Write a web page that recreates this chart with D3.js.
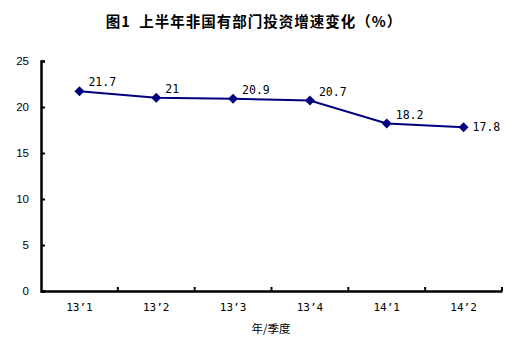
<!DOCTYPE html>
<html><head><meta charset="utf-8">
<script src="https://cdn.jsdelivr.net/npm/d3@7"></script>
<style>body{margin:0;background:#fff}svg{display:block}</style>
</head><body>
<svg id="c" width="517" height="355"></svg>
<script>
const categories = ["13’1","13’2","13’3","13’4","14’1","14’2"];
const values = [21.7, 21, 20.9, 20.7, 18.2, 17.8];
const labels = ["21.7","21","20.9","20.7","18.2","17.8"];
const yTicks = [0,5,10,15,20,25];
const title = "图1  上半年非国有部门投资增速变化（%）";
const xTitle = "年/季度";

(function(){
const svg = d3.select("#c");
const mL = 41, mR = 502, mT = 61, mB = 291;
const x = d3.scaleBand().domain(categories).range([mL, mR]);
const y = d3.scaleLinear().domain([0,25]).range([mB, mT]);

svg.append("text").attr("x", 254).attr("y", 27).attr("text-anchor","middle")
  .attr("font-family","'Noto Sans CJK SC'").attr("font-weight","bold").attr("font-size",14.5)
  .attr("letter-spacing",1).style("white-space","pre")
  .text(title);

// y axis
const ya = svg.append("g").attr("transform",`translate(${mL},0)`)
  .call(d3.axisLeft(y).tickValues(yTicks).tickSize(-4).tickPadding(12));
ya.select(".domain").attr("stroke","#000").attr("stroke-width",2.5);
ya.selectAll(".tick line").attr("stroke","#000").attr("stroke-width",2);
ya.selectAll(".tick text").attr("font-family","Liberation Sans").attr("font-size",11.5).attr("fill","#000");

// x axis
const xa = svg.append("g").attr("transform",`translate(0,${mB})`)
  .call(d3.axisBottom(x).tickSize(0).tickPadding(12));
xa.select(".domain").attr("stroke","#000").attr("stroke-width",2.5);
xa.selectAll(".tick text").attr("font-family","'DejaVu Sans Mono'").attr("font-size",11).attr("fill","#000");
const bounds = categories.map(c => x(c)).concat([mR]);
xa.selectAll(".sep").data(bounds.slice(1)).enter().append("line")
  .attr("x1", d=>d).attr("x2", d=>d).attr("y1",0).attr("y2",-4)
  .attr("stroke","#000").attr("stroke-width",2);

svg.append("text").attr("x", 271).attr("y", 333).attr("text-anchor","middle")
  .attr("font-family","'Noto Sans CJK SC'").attr("font-size",11.5).text(xTitle);

const cx = c => x(c) + x.bandwidth()/2;
const line = d3.line().x((d,i)=>cx(categories[i])).y(d=>y(d));
svg.append("path").datum(values).attr("d", line).attr("fill","none")
  .attr("stroke","#000080").attr("stroke-width",2);

svg.selectAll(".pt").data(values).enter().append("path")
  .attr("d", d3.symbol(d3.symbolSquare, 50)())
  .attr("transform",(d,i)=>`translate(${cx(categories[i])},${y(d)}) rotate(45)`)
  .attr("fill","#000080");

svg.selectAll(".lbl").data(values).enter().append("text")
  .attr("x",(d,i)=> cx(categories[i])+9)
  .attr("y",(d,i)=> i===values.length-1 ? y(d)+4 : y(d)-5)
  .attr("font-family","'DejaVu Sans Mono'").attr("font-size",11.5).attr("fill","#000")
  .text((d,i)=>labels[i]);
})();
</script>
</body></html>
